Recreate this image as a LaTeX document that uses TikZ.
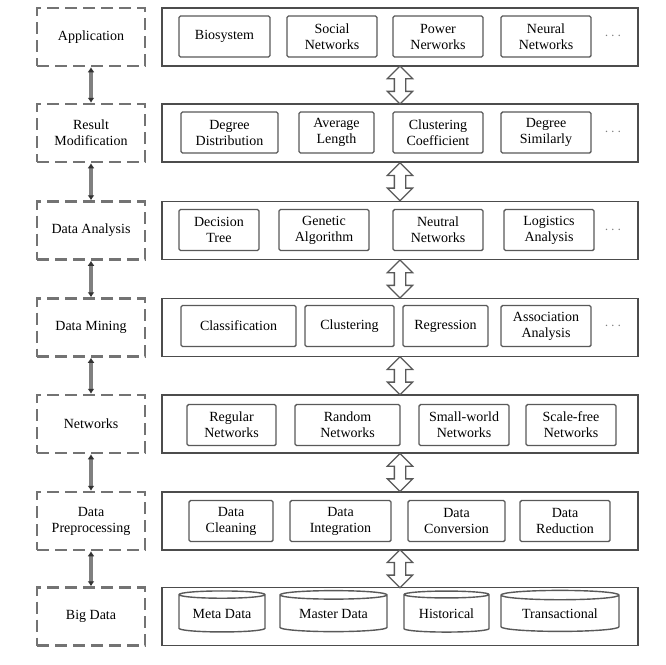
\documentclass[tikz,border=0pt]{standalone}
\usepackage{fontspec}
\setmainfont{Liberation Serif}
\usetikzlibrary{positioning, arrows.meta, calc, shapes.geometric, shapes.arrows}

\begin{document}
\begin{tikzpicture}[
  x=1pt, y=-1pt,
  font=\fontsize{14}{16}\selectfont,
  layer/.style={draw=black!55, line width=2.5pt, dash pattern=on 12pt off 6pt,
                minimum width=108pt, minimum height=58pt, inner sep=2pt, align=center},
  band/.style={draw=black!70, line width=1.8pt, minimum width=476pt, minimum height=58pt},
  item/.style={draw=black!65, line width=1.4pt, rounded corners=1.5pt,
               minimum height=41pt, inner sep=1pt, align=center, fill=white},
  store/.style={cylinder, shape border rotate=90, draw=black!65, line width=1.4pt,
                aspect=0.12, minimum height=41pt, inner sep=1pt},
  more/.style={text=gray},
  link/.style={{Latex[length=5pt, width=7pt, color=black!80]}-{Latex[length=5pt, width=7pt, color=black!80]},
               black!50, line width=3.5pt},
  bigarrow/.style={double arrow, draw=black!65, line width=1.3pt, fill=white, rotate=90,
                   minimum height=38pt, minimum width=24pt, inner sep=5pt,
                   double arrow head extend=7pt},
]
\useasboundingbox (0, 0) rectangle (666, 664);

% left column
\node[layer] (lApp) at (91, 37)    {Application};
\node[layer] (lRes) at (91, 133)   {Result\\Modification};
\node[layer] (lAna) at (91, 230.5) {Data Analysis};
\node[layer] (lMin) at (91, 327.5) {Data Mining};
\node[layer] (lNet) at (91, 424)   {Networks};
\node[layer] (lPre) at (91, 521)   {Data\\Preprocessing};
\node[layer] (lBig) at (91, 616.5) {Big Data};

\draw[link] (lApp.south) -- (lRes.north);
\draw[link] (lRes.south) -- (lAna.north);
\draw[link] (lAna.south) -- (lMin.north);
\draw[link] (lMin.south) -- (lNet.north);
\draw[link] (lNet.south) -- (lPre.north);
\draw[link] (lPre.south) -- (lBig.north);

% right column
\node[band] (bApp) at (400, 37)    {};
\node[band] (bRes) at (400, 133)   {};
\node[band] (bAna) at (400, 230.5) {};
\node[band] (bMin) at (400, 327.5) {};
\node[band] (bNet) at (400, 424)   {};
\node[band] (bPre) at (400, 521)   {};
\node[band] (bBig) at (400, 616.5) {};

\node[bigarrow] (dApp) at ($(bApp.south)!0.5!(bRes.north)$) {};
\node[bigarrow] (dRes) at ($(bRes.south)!0.5!(bAna.north)$) {};
\node[bigarrow] (dAna) at ($(bAna.south)!0.5!(bMin.north)$) {};
\node[bigarrow] (dMin) at ($(bMin.south)!0.5!(bNet.north)$) {};
\node[bigarrow] (dNet) at ($(bNet.south)!0.5!(bPre.north)$) {};
\node[bigarrow] (dPre) at ($(bPre.south)!0.5!(bBig.north)$) {};

% application
\node[item, minimum width=91pt] (bio)  at (224.5, 36.5) {Biosystem};
\node[item, minimum width=90pt] (soc)  at (332, 36.5)   {Social\\Networks};
\node[item, minimum width=90pt] (pow)  at (438, 36.5)   {Power\\Nerworks};
\node[item, minimum width=90pt] (neu)  at (546, 36.5)   {Neural\\Networks};
\node[more] (appMore) at (613, 36.5) {$\cdots$};

% result modification
\node[item, minimum width=97pt] (ddist) at (229.5, 132.5) {Degree\\Distribution};
\node[item, minimum width=75pt] (avg)   at (336.5, 132.5) {Average\\Length};
\node[item, minimum width=90pt] (clco)  at (438, 132.5)   {Clustering\\Coefficient};
\node[item, minimum width=90pt] (dsim)  at (546, 132.5)   {Degree\\Similarly};
\node[more] (resMore) at (613, 132.5) {$\cdots$};

% data analysis
\node[item, minimum width=80pt] (dtree) at (219, 230)   {Decision\\Tree};
\node[item, minimum width=90pt] (gen)   at (324, 230)   {Genetic\\Algorithm};
\node[item, minimum width=90pt] (neut)  at (438, 230)   {Neutral\\Networks};
\node[item, minimum width=90pt] (logi)  at (549, 230)   {Logistics\\Analysis};
\node[more] (anaMore) at (613, 230) {$\cdots$};

% data mining
\node[item, minimum width=115pt] (cls)  at (238.5, 326) {Classification};
\node[item, minimum width=89pt]  (clu)  at (349.5, 326) {Clustering};
\node[item, minimum width=85pt]  (reg)  at (445.5, 326) {Regression};
\node[item, minimum width=90pt]  (asso) at (546, 326)   {Association\\Analysis};
\node[more] (minMore) at (613, 326) {$\cdots$};

% networks
\node[item, minimum width=89pt]  (regn) at (231.5, 425) {Regular\\Networks};
\node[item, minimum width=105pt] (ranN) at (347.5, 425) {Random\\Networks};
\node[item, minimum width=90pt]  (smw)  at (464, 425)   {Small-world\\Networks};
\node[item, minimum width=90pt]  (scf)  at (571, 425)   {Scale-free\\Networks};

% data preprocessing
\node[item, minimum width=84pt]  (dcl)  at (231, 521)   {Data\\Cleaning};
\node[item, minimum width=101pt] (dint) at (340.5, 521) {Data\\Integration};
\node[item, minimum width=97pt]  (dcon) at (456.5, 521) {Data\\Conversion};
\node[item, minimum width=90pt]  (dred) at (565, 521)   {Data\\Reduction};

% big data
\node[store, minimum width=86pt]  (meta) at (222, 614)   {Meta Data};
\node[store, minimum width=107pt] (mast) at (333.5, 614) {Master Data};
\node[store, minimum width=85pt]  (hist) at (446.5, 614) {Historical};
\node[store, minimum width=118pt] (tran) at (560, 614)   {Transactional};

\end{tikzpicture}
\end{document}
